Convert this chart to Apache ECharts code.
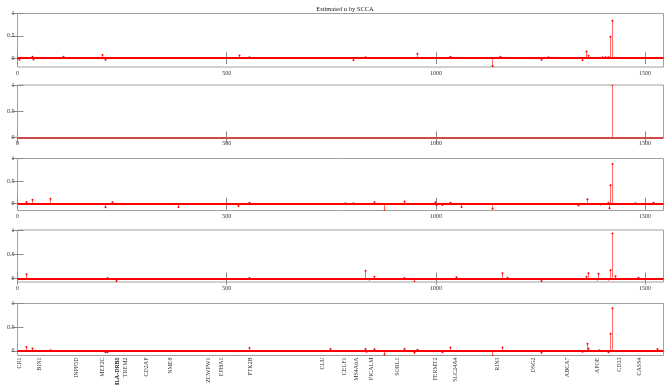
<!DOCTYPE html>
<html>
<head>
<meta charset="utf-8">
<script src="https://cdn.jsdelivr.net/npm/echarts@6/dist/echarts.min.js"></script>
<style>
  html, body { margin: 0; padding: 0; background: #fff; }
  #chart { width: 664px; height: 385px; }
</style>
</head>
<body>
<div id="chart"></div>
<script>
const nFeatures = 1544;
const xTicks = [0, 500, 1000, 1500];
const yTicks = [0, 0.5, 1];
const yMins = [-0.2, 0, -0.15, -0.07, -0.1];

// nonzero loadings per component (index, value)
const u1Idx = [3, 34, 36, 108, 202, 209, 530, 553, 803, 831, 955, 1034, 1135, 1153, 1251, 1269, 1350, 1359, 1363, 1397, 1404, 1411, 1416, 1420];
const u1Val = [-0.04, 0.03, -0.03, 0.03, 0.07, -0.04, 0.06, 0.02, -0.05, 0.02, 0.1, 0.03, -0.18, 0.03, -0.04, 0.02, -0.05, 0.15, 0.05, 0.02, 0.02, 0.02, 0.48, 0.84];

const u2Idx = [1421];
const u2Val = [1];

const u3Idx = [20, 34, 77, 209, 225, 371, 383, 528, 554, 783, 803, 853, 877, 923, 998, 1000, 1014, 1034, 1060, 1134, 1339, 1360, 1392, 1411, 1413, 1416, 1421, 1476, 1518];
const u3Val = [0.04, 0.09, 0.11, -0.08, 0.03, -0.01, -0.07, -0.05, 0.02, 0.01, 0.01, 0.03, -0.15, 0.05, 0.03, -0.03, -0.03, 0.02, -0.07, -0.11, -0.04, 0.1, -0.02, 0.02, -0.1, 0.41, 0.88, 0.01, 0.02];

const u4Idx = [20, 215, 236, 554, 831, 839, 853, 923, 947, 1048, 1158, 1169, 1251, 1358, 1363, 1385, 1388, 1412, 1416, 1421, 1429, 1482];
const u4Val = [0.09, 0.01, -0.05, 0.01, 0.16, -0.02, 0.04, 0.01, -0.07, 0.03, 0.11, 0.02, -0.05, 0.04, 0.11, -0.02, 0.1, -0.02, 0.17, 0.93, 0.05, 0.02];

const u5Idx = [20, 34, 78, 209, 215, 524, 554, 747, 831, 834, 853, 877, 923, 947, 955, 1014, 1034, 1134, 1158, 1251, 1350, 1360, 1363, 1390, 1411, 1416, 1421, 1528];
const u5Val = [0.08, 0.05, 0.01, -0.03, -0.03, -0.01, 0.06, 0.04, 0.04, -0.02, 0.03, -0.08, 0.04, -0.04, 0.02, -0.03, 0.07, -0.1, 0.07, -0.04, -0.02, 0.15, 0.05, 0.01, -0.03, 0.36, 0.9, 0.04];

const geneNames = ['CR1', 'BIN1', 'INPP5D', 'MEF2C', 'HLA-DRB5', 'HLA-DRB1', 'TREM2', 'CD2AP', 'NME8', 'ZCWPW1', 'EPHA1', 'PTK2B', 'CLU', 'CELF1', 'MS4A6A', 'PICALM', 'SORL1', 'FERMT2', 'SLC24A4', 'RIN3', 'DSG2', 'ABCA7', 'APOE', 'CD33', 'CASS4'];
const genePos = [4, 52, 140, 202, 238, 240, 257, 309, 366, 456, 488, 556, 729, 781, 809, 847, 908, 998, 1046, 1147, 1234, 1314, 1385, 1438, 1486];

const panels = [[u1Idx, u1Val], [u2Idx, u2Val], [u3Idx, u3Val], [u4Idx, u4Val], [u5Idx, u5Val]];
const subs = ['₁', '₂', '₃', '₄', '₅'];

const FONT = 'Liberation Serif';
const tops = [13.5, 85, 158.5, 230, 303.5];
const heights = [53.5, 52.5, 52, 52, 52];

// stem: thin line from baseline to value, small dot at the tip
function renderStem(params, api) {
  const base = api.coord([api.value(0), 0]);
  const tip = api.coord([api.value(0), api.value(1)]);
  const x = Math.round(base[0]) + 0.5;
  return {
    type: 'group',
    children: [
      { type: 'line', shape: { x1: x, y1: base[1], x2: x, y2: tip[1] },
        style: { stroke: '#ff6a6a', lineWidth: 1 } },
      { type: 'circle', shape: { cx: x, cy: tip[1], r: 1 },
        style: { fill: '#ff0000' } }
    ]
  };
}

const grid = [], xAxis = [], yAxis = [], series = [];

panels.forEach(([idx, val], i) => {
  const last = i === panels.length - 1;
  grid.push({
    left: 17.5, right: 0.5, top: tops[i], height: heights[i],
    containLabel: false, outerBoundsMode: 'none',
    show: true, borderColor: '#a0a0a0', borderWidth: 1
  });
  const tickStyle = { inside: true, length: 6, lineStyle: { color: '#8a8a8a' } };
  xAxis.push({
    type: 'value', gridIndex: i, min: 0, max: nFeatures,
    axisLine: { show: false }, splitLine: { show: false },
    axisTick: last ? { show: false } : { ...tickStyle, customValues: xTicks },
    axisLabel: last ? {
      customValues: genePos, rotate: 90, margin: 2, fontSize: 6,
      fontFamily: FONT, color: '#333', hideOverlap: false,
      formatter: v => geneNames[genePos.indexOf(v)]
    } : {
      customValues: xTicks, margin: 3, fontSize: 6, fontFamily: FONT, color: '#333',
      formatter: v => String(v)
    }
  });
  xAxis.push({
    type: 'value', gridIndex: i, min: 0, max: nFeatures, position: 'top',
    axisLine: { show: false }, splitLine: { show: false }, axisLabel: { show: false },
    axisTick: last ? { show: false } : { ...tickStyle, customValues: xTicks }
  });
  yAxis.push({
    type: 'value', gridIndex: i, min: yMins[i], max: 1,
    name: 'u' + subs[i], nameLocation: 'middle', nameGap: 11,
    nameTextStyle: { fontSize: 6.5, fontFamily: FONT, color: '#333' },
    axisLine: { show: false }, splitLine: { show: false },
    axisTick: { ...tickStyle, customValues: yTicks },
    axisLabel: { customValues: yTicks, margin: 3, fontSize: 6, fontFamily: FONT, color: '#333',
      formatter: v => String(v) }
  });
  yAxis.push({
    type: 'value', gridIndex: i, min: yMins[i], max: 1, position: 'right',
    axisLine: { show: false }, splitLine: { show: false }, axisLabel: { show: false },
    axisTick: { ...tickStyle, customValues: yTicks }
  });
  series.push({
    type: 'custom', xAxisIndex: 2 * i, yAxisIndex: 2 * i,
    data: idx.map((x, k) => [x, val[k]]), silent: true,
    renderItem: renderStem, clip: true,
    markLine: {
      silent: true, symbol: 'none', label: { show: false },
      lineStyle: { color: i === 1 ? '#d04848' : '#ff0000', width: 2, type: 'solid' },
      data: [{ yAxis: 0 }]
    }
  });
});

const chart = echarts.init(document.getElementById('chart'));
chart.setOption({
  animation: false,
  backgroundColor: '#fff',
  title: {
    text: 'Estimated u by SCCA', left: 340, top: 1, textAlign: 'center',
    textStyle: { fontSize: 6.5, fontWeight: 'normal', fontFamily: FONT, color: '#222' }
  },
  grid, xAxis, yAxis, series
});
</script>
</body>
</html>
